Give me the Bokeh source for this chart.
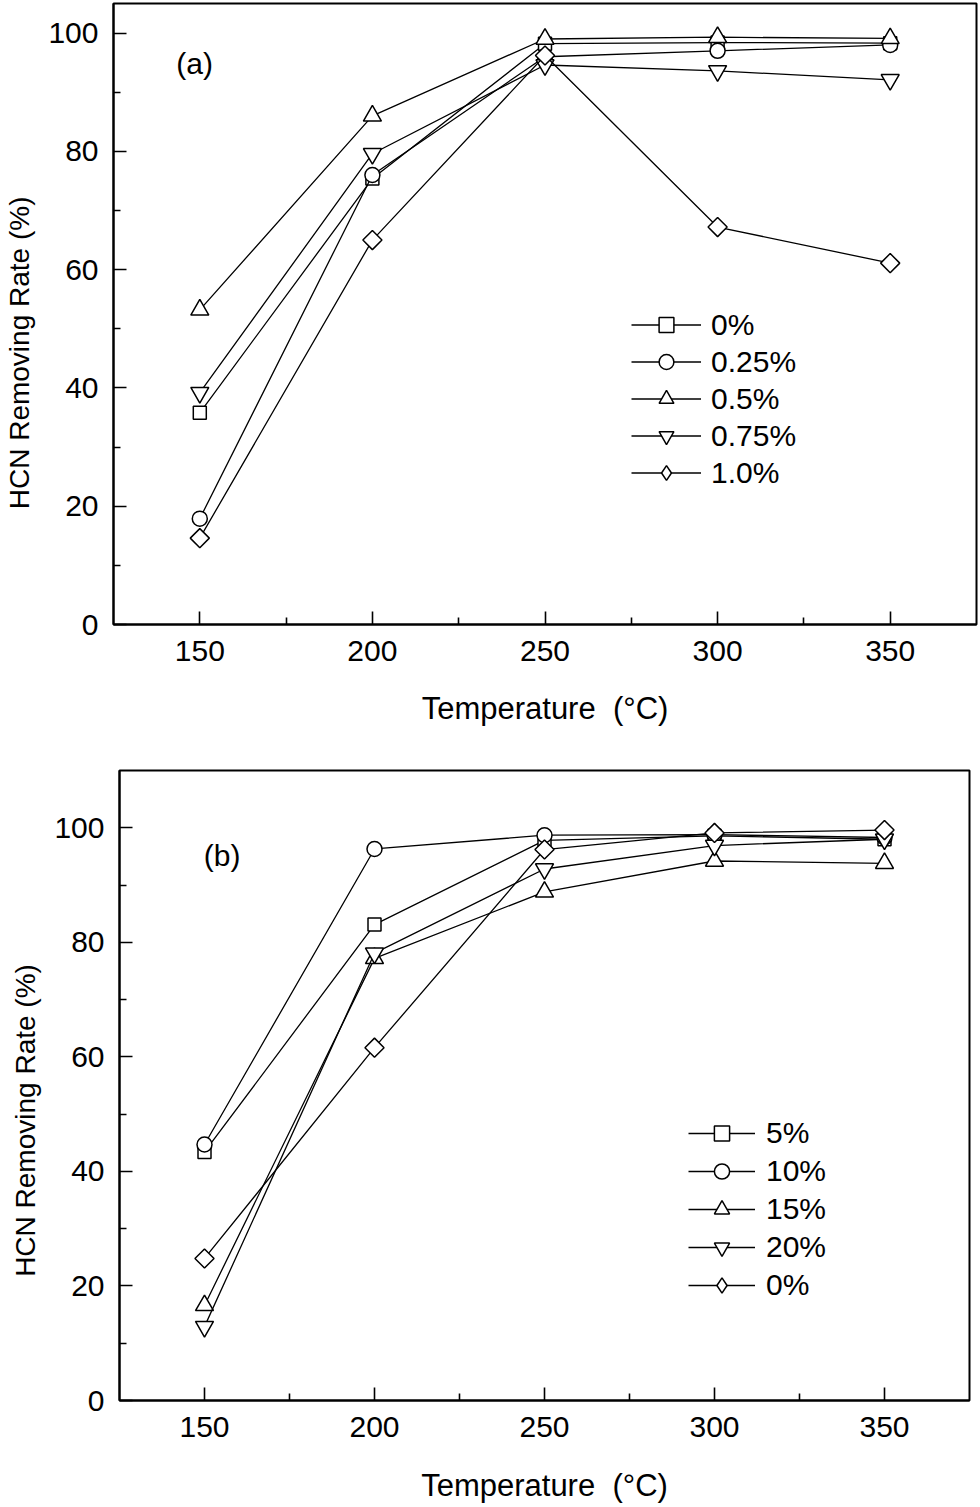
import numpy as np
from bokeh.plotting import figure
from bokeh.models import Range1d, FixedTicker, Legend, LegendItem, Label
from bokeh.layouts import column
from bokeh.embed import file_html
from bokeh.resources import INLINE

# ---------------- data ----------------
temperatures = [150, 200, 250, 300, 350]
x_ticks = [150, 200, 250, 300, 350]
x_minor_ticks = [175, 225, 275, 325]
y_ticks = [0, 20, 40, 60, 80, 100]
y_minor_ticks = [10, 30, 50, 70, 90]

a_labels = ["0%", "0.25%", "0.5%", "0.75%", "1.0%"]
a_0 = [35.8, 75.4, 98.2, 98.4, 98.3]
a_025 = [17.9, 76.0, 96.0, 97.0, 98.0]
a_05 = [53.2, 86.0, 99.0, 99.3, 99.1]
a_075 = [39.2, 79.6, 94.6, 93.6, 92.1]
a_10 = [14.6, 65.0, 96.2, 67.2, 61.1]

b_labels = ["5%", "10%", "15%", "20%", "0%"]
b_5 = [43.4, 83.1, 97.8, 98.6, 98.0]
b_10 = [44.7, 96.3, 98.7, 98.8, 98.3]
b_15 = [16.6, 77.2, 88.8, 94.2, 93.8]
b_20 = [12.9, 78.1, 92.8, 96.9, 98.0]
b_0 = [24.8, 61.6, 96.2, 99.1, 99.6]

x_label = "Temperature \u00a0(°C)"
y_label = "HCN Removing Rate (%)"

FONT = "Liberation Sans"
MARKERS = ["square", "circle", "triangle", "inverted_triangle", "diamond"]
SIZES = [13, 15, 18, 18, 13.5]


def make_panel(series, labels, tag, tag_xy, y_end, height, mb_left, mb_right,
               mb_top, mb_bottom, xlab_standoff, ylab_standoff, ylab_pad,
               legend_loc, legend_glyph_w, legend_glyph_h, legend_standoff):
    p = figure(width=978, height=height,
               x_range=Range1d(125, 375), y_range=Range1d(0, y_end),
               output_backend="svg", toolbar_location=None,
               min_border_left=mb_left, min_border_right=mb_right,
               min_border_top=mb_top, min_border_bottom=mb_bottom)
    p.frame_align = False
    p.grid.visible = False
    p.outline_line_color = "black"
    p.outline_line_width = 2
    p.background_fill_color = "white"
    p.border_fill_color = "white"

    p.xaxis.ticker = FixedTicker(ticks=x_ticks, minor_ticks=x_minor_ticks)
    p.yaxis.ticker = FixedTicker(ticks=y_ticks, minor_ticks=y_minor_ticks)
    for ax in (p.xaxis[0], p.yaxis[0]):
        ax.major_tick_in = 13
        ax.major_tick_out = 0
        ax.minor_tick_in = 7
        ax.minor_tick_out = 0
        ax.axis_line_width = 2
        ax.axis_line_color = "black"
        ax.major_tick_line_width = 1.6
        ax.minor_tick_line_width = 1.6
        ax.major_tick_line_color = "black"
        ax.minor_tick_line_color = "black"
        ax.major_label_text_font = FONT
        ax.major_label_text_font_size = "30px"
        ax.major_label_text_color = "black"
        ax.axis_label_text_font = FONT
        ax.axis_label_text_font_style = "normal"
        ax.axis_label_text_color = "black"
    p.xaxis.major_label_standoff = 16
    p.yaxis.major_label_standoff = 15
    p.xaxis.axis_label = x_label
    p.xaxis.axis_label_standoff = xlab_standoff
    p.xaxis.axis_label_text_font_size = "31px"
    # trailing no-break spaces move the (centred) title down the axis
    p.yaxis.axis_label = y_label + "\u00a0" * ylab_pad
    p.yaxis.axis_label_standoff = ylab_standoff
    p.yaxis.axis_label_text_font_size = "28px"

    items = []
    for vals, lab, mk, sz in zip(series, labels, MARKERS, SIZES):
        lr = p.line(temperatures, vals, line_color="black", line_width=1.3)
        if mk == "diamond":
            # narrow diamond (legend sample), covered by a square rotated
            # 45 degrees that matches the plotted symbol
            dr = p.scatter(temperatures, vals, marker="diamond", size=sz * 1.3,
                           fill_color="white", line_color="black",
                           line_width=1.5)
            p.scatter(temperatures, vals, marker="square", size=sz,
                      angle=np.pi / 4, fill_color="white", line_color="black",
                      line_width=1.5)
            items.append(LegendItem(label=lab, renderers=[lr, dr]))
        else:
            sr = p.scatter(temperatures, vals, marker=mk, size=sz,
                           fill_color="white", line_color="black",
                           line_width=1.5)
            items.append(LegendItem(label=lab, renderers=[lr, sr]))

    legend = Legend(items=items, location=legend_loc,
                    glyph_width=legend_glyph_w, glyph_height=legend_glyph_h,
                    label_standoff=legend_standoff, spacing=0,
                    padding=0, margin=0, border_line_color=None,
                    background_fill_alpha=0, label_text_font=FONT,
                    label_text_font_size="30px", label_text_color="black")
    p.add_layout(legend)

    p.add_layout(Label(x=tag_xy[0], y=tag_xy[1], text=tag, text_font=FONT,
                       text_font_size="30px", text_align="left",
                       text_baseline="middle", text_color="black"))
    return p


pa = make_panel([a_0, a_025, a_05, a_075, a_10], a_labels, "(a)", (143.2, 94.8),
                y_end=105, height=739, mb_left=113, mb_right=2, mb_top=3,
                mb_bottom=115, xlab_standoff=27, ylab_standoff=10, ylab_pad=10,
                legend_loc=(518, 133), legend_glyph_w=70, legend_glyph_h=37,
                legend_standoff=10)
pb = make_panel([b_5, b_10, b_15, b_20, b_0], b_labels, "(b)", (149.8, 95.2),
                y_end=110, height=767, mb_left=119, mb_right=9, mb_top=31,
                mb_bottom=106, xlab_standoff=28, ylab_standoff=10, ylab_pad=9,
                legend_loc=(569, 96), legend_glyph_w=67, legend_glyph_h=38,
                legend_standoff=11)

layout = column(pa, pb, spacing=0)
open("out.html", "w").write(file_html(layout, INLINE))
